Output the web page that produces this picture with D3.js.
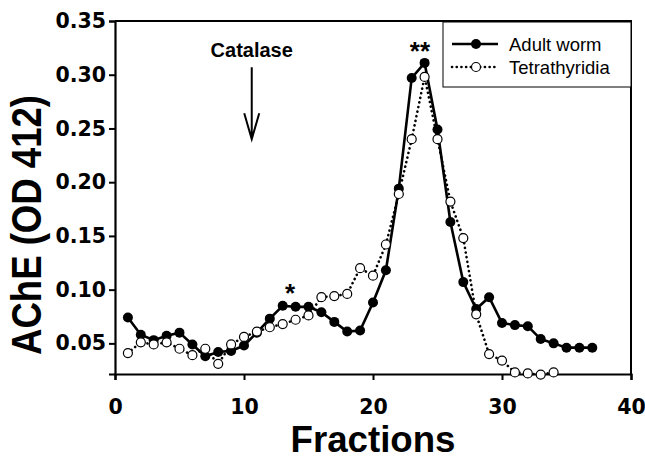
<!DOCTYPE html>
<html>
<head>
<meta charset="utf-8">
<script src="https://cdn.jsdelivr.net/npm/d3@7"></script>
<style>
  body { margin: 0; background: #fff; }
  svg text { font-family: "Liberation Sans", Arial, Helvetica, sans-serif; }
</style>
</head>
<body>
<div id="chart"></div>
<script>
// fraction numbers and AChE activity (OD 412)
var adultFractions = d3.range(1, 38);
var adultValues = [0.074, 0.058, 0.053, 0.057, 0.060, 0.049, 0.038, 0.042, 0.043, 0.048,
                   0.060, 0.073, 0.085, 0.084, 0.084, 0.079, 0.070, 0.061, 0.062, 0.088,
                   0.118, 0.194, 0.297, 0.311, 0.249, 0.163, 0.107, 0.082, 0.093, 0.069,
                   0.067, 0.066, 0.054, 0.050, 0.046, 0.046, 0.046];
var tetraFractions = d3.range(1, 35);
var tetraValues = [0.041, 0.051, 0.049, 0.051, 0.045, 0.039, 0.045, 0.031, 0.049, 0.056,
                   0.061, 0.065, 0.068, 0.072, 0.076, 0.093, 0.094, 0.096, 0.120, 0.113,
                   0.142, 0.189, 0.240, 0.298, 0.240, 0.182, 0.148, 0.077, 0.040, 0.034,
                   0.023, 0.022, 0.021, 0.023];
var seriesNames = ["Adult worm", "Tetrathyridia"];
var xTicks = [0, 10, 20, 30, 40];
var yTicks = [0.05, 0.10, 0.15, 0.20, 0.25, 0.30, 0.35];

var margin = {top: 21, right: 14, bottom: 86, left: 115},
    width = 645 - margin.left - margin.right,
    height = 460 - margin.top - margin.bottom;

var svg = d3.select("#chart")
  .append("svg")
    .attr("width", 645)
    .attr("height", 460)
  .append("g")
    .attr("transform", "translate(" + margin.left + "," + margin.top + ")");

var x = d3.scaleLinear().domain([0, 40]).range([0, width]);
var y = d3.scaleLinear().domain([0.0215, 0.35]).range([height, 0]);

// frame (top and right)
svg.append("path")
  .attr("d", "M0,0H" + width + "V" + height)
  .attr("fill", "none")
  .attr("stroke", "#000")
  .attr("stroke-width", 2);

var xAxis = svg.append("g")
  .attr("transform", "translate(0," + height + ")")
  .call(d3.axisBottom(x).tickValues(xTicks).tickSize(6).tickPadding(19).tickFormat(d3.format("d")));

var yAxis = svg.append("g")
  .call(d3.axisLeft(y).tickValues(yTicks).tickSize(6).tickPadding(3).tickFormat(d3.format(".2f")));

[xAxis, yAxis].forEach(function (a) {
  a.select(".domain").attr("stroke-width", 2.2);
  a.selectAll(".tick line").attr("stroke-width", 2);
  a.selectAll("text")
    .style("font-family", "'DejaVu Sans', sans-serif")
    .style("font-size", "20.5px")
    .style("font-weight", "bold")
    .attr("fill", "#000");
});

// axis titles (the original lettering is tall and narrow, so squeeze it to its width)
svg.append("text")
  .attr("x", width / 2 - 82.5)
  .attr("y", 452 - margin.top)
  .attr("textLength", 165)
  .attr("lengthAdjust", "spacingAndGlyphs")
  .style("font-size", "36px")
  .style("font-weight", "bold")
  .text("Fractions");

svg.append("text")
  .attr("transform", "translate(" + (41 - margin.left) + "," + (355 - margin.top) + ") rotate(-90)")
  .attr("textLength", 260)
  .attr("lengthAdjust", "spacingAndGlyphs")
  .style("font-size", "43px")
  .style("font-weight", "bold")
  .text("AChE (OD 412)");

var line = d3.line()
  .x(function (d) { return x(d[0]); })
  .y(function (d) { return y(d[1]); });

var adult = d3.zip(adultFractions, adultValues);
var tetra = d3.zip(tetraFractions, tetraValues);

// Tetrathyridia: dotted line, open circles
svg.append("path")
  .datum(tetra)
  .attr("d", line)
  .attr("fill", "none")
  .attr("stroke", "#000")
  .attr("stroke-width", 2.6)
  .attr("stroke-linecap", "round")
  .attr("stroke-dasharray", "0.1,4.6");

// Adult worm: solid line, filled circles
svg.append("path")
  .datum(adult)
  .attr("d", line)
  .attr("fill", "none")
  .attr("stroke", "#000")
  .attr("stroke-width", 2.6);

svg.selectAll("circle.adult")
  .data(adult)
  .enter()
  .append("circle")
    .attr("class", "adult")
    .attr("cx", function (d) { return x(d[0]); })
    .attr("cy", function (d) { return y(d[1]); })
    .attr("r", 5)
    .attr("fill", "#000");

svg.selectAll("circle.tetra")
  .data(tetra)
  .enter()
  .append("circle")
    .attr("class", "tetra")
    .attr("cx", function (d) { return x(d[0]); })
    .attr("cy", function (d) { return y(d[1]); })
    .attr("r", 4.5)
    .attr("fill", "#fff")
    .attr("stroke", "#000")
    .attr("stroke-width", 1.2);

// annotations
svg.append("text")
  .attr("x", x(23.64))
  .attr("y", y(0.314))
  .attr("text-anchor", "middle")
  .style("font-size", "26px")
  .style("font-weight", "bold")
  .text("**");

svg.append("text")
  .attr("x", x(13.57))
  .attr("y", y(0.0886))
  .attr("text-anchor", "middle")
  .style("font-size", "26px")
  .style("font-weight", "bold")
  .text("*");

svg.append("text")
  .attr("x", x(10.6))
  .attr("y", y(0.3165))
  .attr("text-anchor", "middle")
  .style("font-size", "20px")
  .style("font-weight", "bold")
  .text("Catalase");

var ax = x(10.6), aTop = y(0.307), aTip = y(0.24);
svg.append("path")
  .attr("d", "M" + ax + "," + aTop + "V" + aTip +
             "M" + (ax - 7.5) + "," + (aTip - 26) + "L" + ax + "," + aTip + "L" + (ax + 7.5) + "," + (aTip - 26))
  .attr("fill", "none")
  .attr("stroke", "#000")
  .attr("stroke-width", 2);

// legend
var legend = svg.append("g")
  .attr("transform", "translate(" + (443 - margin.left) + ",1)");

legend.append("rect")
  .attr("width", width - (443 - margin.left))
  .attr("height", 65)
  .attr("fill", "#fff")
  .attr("stroke", "#000")
  .attr("stroke-width", 1);

seriesNames.forEach(function (name, i) {
  var ly = 22 + i * 23;
  legend.append("line")
    .attr("x1", 9).attr("x2", 55)
    .attr("y1", ly).attr("y2", ly)
    .attr("stroke", "#000")
    .attr("stroke-width", 2.6)
    .attr("stroke-linecap", i ? "round" : "butt")
    .attr("stroke-dasharray", i ? "0.1,4.6" : null);
  legend.append("circle")
    .attr("cx", 33).attr("cy", ly)
    .attr("r", i ? 4.5 : 5)
    .attr("fill", i ? "#fff" : "#000")
    .attr("stroke", "#000")
    .attr("stroke-width", i ? 1.2 : 0);
  legend.append("text")
    .attr("x", 66)
    .attr("y", ly + 6.5)
    .style("font-size", "18.5px")
    .text(name);
});
</script>
</body>
</html>
